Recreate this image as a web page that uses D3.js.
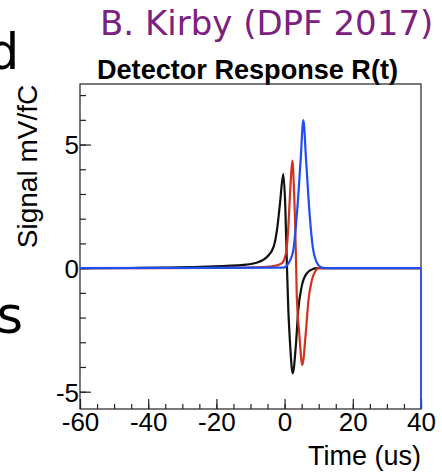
<!DOCTYPE html>
<html>
<head>
<meta charset="utf-8">
<script src="https://cdn.jsdelivr.net/npm/d3@7"></script>
<style>
  body { margin: 0; background: #fff; }
  svg { display: block; }
</style>
</head>
<body>
<script>
// values: [time (us), signal (mV/fC)]
var blackPts = [[-60,0],[-45,0.005],[-35,0.02],[-28,0.04],[-22.8,0.06],[-17,0.09],[-12.1,0.13],[-8.2,0.22],[-5.1,0.46],[-3.2,0.87],[-2.1,1.68],[-1.35,2.62],[-0.38,3.8],[0.2,2.5],[0.7,0],[1.1,-1.7],[1.6,-3.04],[2.37,-4.26],[3.35,-3.04],[4.0,-1.7],[5.0,-0.75],[6.5,-0.21],[8.4,-0.03],[9.5,0],[40,0]];
var redPts = [[-60,0],[-20,0.005],[-8,0.03],[-3.2,0.08],[-0.85,0.19],[0.4,0.6],[1.1,1.68],[1.6,3.03],[2.27,4.35],[2.8,3.0],[3.05,2.0],[3.4,0],[3.55,-1.02],[4.3,-2.64],[5.2,-3.92],[6.2,-2.64],[7.0,-1.29],[8.0,-0.48],[9.2,-0.08],[10,0],[40,0]];
var bluePts = [[-60,0],[-0.4,0.02],[1.1,0.19],[2.55,0.73],[3.7,2.35],[4.7,4.37],[5.5,5.99],[6.3,4.37],[7.25,2.35],[8.4,0.73],[9.9,0.12],[10.9,0.02],[12,0],[40,0]];
var xMajor = [-60, -40, -20, 0, 20, 40];
var yMajor = [-5, 0, 5];
var xDomain = [-60, 40];
var yDomain = [-5.7, 7.45];

var svg = d3.select("body").append("svg").attr("width", 442).attr("height", 472);
var x = d3.scaleLinear().domain(xDomain).range([80, 421]);
var y = d3.scaleLinear().domain(yDomain).range([409, 84]);

// slide text around the figure
svg.append("text").attr("x", 100).attr("y", 35)
  .style("font-family", "DejaVu Sans").style("font-size", "34px").style("fill", "#7b2180")
  .text("B. Kirby (DPF 2017)");
svg.append("text").attr("x", -12.5).attr("y", 69)
  .style("font-family", "DejaVu Sans").style("font-size", "50px").text("d");
svg.append("text").attr("x", -3.5).attr("y", 333)
  .style("font-family", "DejaVu Sans").style("font-size", "51px").text("s");

svg.append("text").attr("x", 97).attr("y", 79)
  .attr("textLength", 301).attr("lengthAdjust", "spacingAndGlyphs")
  .style("font-family", "Liberation Sans").style("font-weight", "bold").style("font-size", "28px")
  .text("Detector Response R(t)");

// frame
svg.append("rect").attr("x", 80).attr("y", 84).attr("width", 341).attr("height", 325)
  .attr("fill", "none").attr("stroke", "#222").attr("stroke-width", 1.2);

// axes, ticks pointing inward
var fmt = function(d){ return String(d); };
svg.append("g").attr("transform", "translate(0,409)")
  .call(d3.axisBottom(x).tickValues(d3.range(-60, 41, 5)).tickSizeInner(-5).tickSizeOuter(0).tickFormat(""));
svg.append("g").attr("transform", "translate(0,409)")
  .call(d3.axisBottom(x).tickValues(xMajor).tickSizeInner(-10).tickSizeOuter(0).tickPadding(4).tickFormat(fmt));
svg.append("g").attr("transform", "translate(80,0)")
  .call(d3.axisLeft(y).tickValues(d3.range(-5, 8, 1)).tickSizeInner(-6).tickSizeOuter(0).tickFormat(""));
var yMajorAx = svg.append("g").attr("transform", "translate(80,0)")
  .call(d3.axisLeft(y).tickValues(yMajor).tickSizeInner(-11).tickSizeOuter(0).tickPadding(1).tickFormat(fmt));

svg.selectAll(".domain").remove();
svg.selectAll(".tick line").attr("stroke", "#222").attr("stroke-width", 1.2);
svg.selectAll(".tick text").style("font-family", "Liberation Sans").style("font-size", "26px").attr("fill", "#000");
yMajorAx.selectAll(".tick text").attr("dy", "0.36em");

svg.append("text").attr("x", 421).attr("y", 465).attr("text-anchor", "end")
  .style("font-family", "Liberation Sans").style("font-size", "27px").text("Time (us)");
svg.append("text").attr("transform", "translate(37,166.5) rotate(-90)").attr("text-anchor", "middle")
  .style("font-family", "Liberation Sans").style("font-size", "28px").text("Signal mV/fC");

// curves
var line = d3.line().x(function(d){ return x(d[0]); }).y(function(d){ return y(d[1]); }).curve(d3.curveMonotoneX);
var series = [
  {pts: blackPts, color: "#111"},
  {pts: redPts, color: "#d3321f"},
  {pts: bluePts, color: "#1f4ff0"}
];
svg.append("g").selectAll("path").data(series).enter().append("path")
  .attr("d", function(d){ return line(d.pts); })
  .attr("fill", "none").attr("stroke", function(d){ return d.color; }).attr("stroke-width", 2.2);

// blue graph closes down to the frame bottom at the right edge
svg.append("path")
  .attr("d", d3.line()([[x(xDomain[1]), y(0)], [x(xDomain[1]), y(yDomain[0])]]))
  .attr("stroke", "#1f4ff0").attr("stroke-width", 1.5);
</script>
</body>
</html>
